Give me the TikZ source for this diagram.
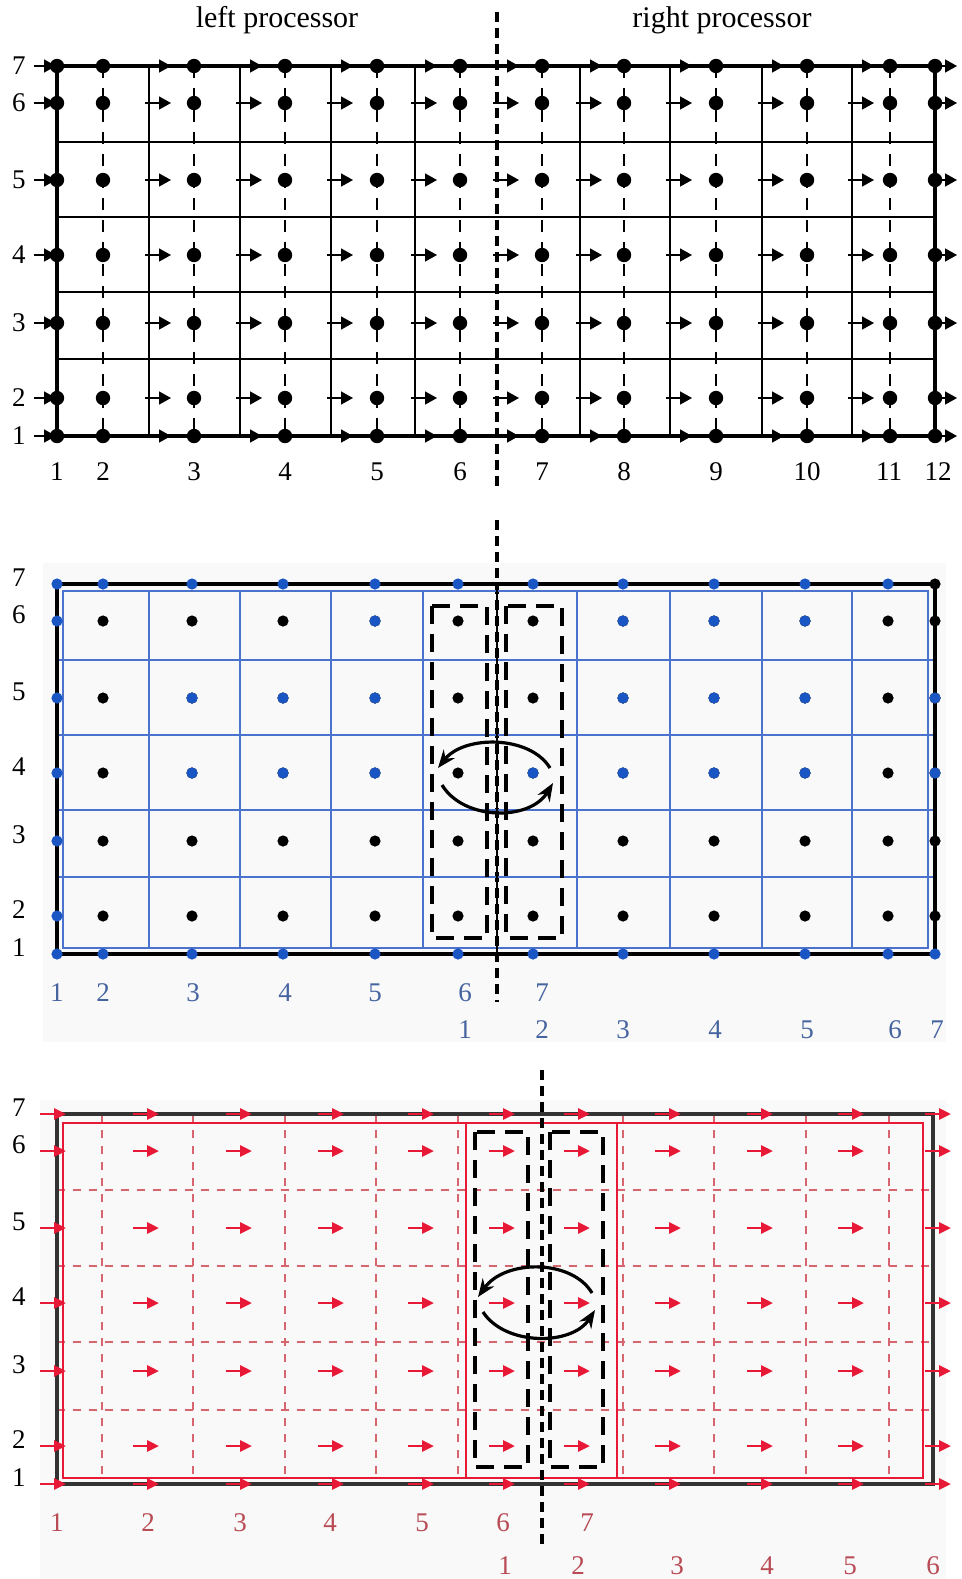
\documentclass[tikz,border=0pt]{standalone}
\usepackage{fontspec}
\setmainfont{Liberation Serif}
\usetikzlibrary{arrows.meta}

\definecolor{paper}{RGB}{249,249,249}
\definecolor{gridblue}{RGB}{75,115,205}
\definecolor{dotblue}{RGB}{25,85,195}
\definecolor{numblue}{RGB}{70,100,160}
\definecolor{velred}{RGB}{232,25,55}
\definecolor{gridred}{RGB}{215,100,110}
\definecolor{numred}{RGB}{185,75,85}

\tikzset{
  num/.style={font=\fontsize{13.5}{16}\selectfont,inner sep=0pt},
  title/.style={font=\fontsize{15}{18}\selectfont,inner sep=0pt},
  cellface/.style={line width=0.8pt},
  centerline/.style={line width=0.8pt,dash pattern=on 6pt off 5pt},
  thindash/.style={line width=0.6pt,dash pattern=on 4pt off 4pt},
  divider/.style={line width=1.7pt,dash pattern=on 5pt off 3pt},
  flux/.style={line width=0.8pt,-{Triangle[length=6pt,width=6.5pt]}},
  redflux/.style={velred,line width=1.4pt,-{Triangle[length=6pt,width=5.5pt]}},
  ghostbox/.style={line width=2pt,dash pattern=on 9pt off 5pt},
  exchange/.style={line width=1.6pt,-{Stealth[length=9pt,width=7pt]}},
}

\begin{document}
\begin{tikzpicture}[x=0.5pt,y=-0.5pt]
  % pixel grid of the scan: x to the right, y downwards
  \useasboundingbox (0,0) rectangle (962,1579);
  \def\rows{66,103,180,255,323,398,436}

  % ---- top: the whole domain, cut at 497
  \node[title] (lefttitle) at (277,20) {left processor};
  \node[title] (righttitle) at (722,20) {right processor};
  \foreach \x in {149,240,331,415,580,670,762,852} \draw[cellface] (\x,66) -- (\x,436);
  \foreach \y in {142,217,292,359} \draw[cellface] (57,\y) -- (935,\y);
  \foreach \x in {103,194,285,377,460,542,624,716,807,890} \draw[centerline] (\x,66) -- (\x,436);
  \draw[line width=2pt] (57,66) rectangle (935,436);
  \draw[divider] (497,12) -- (497,486);
  \foreach \y in \rows {
    \draw[flux] (34,\y) -- (56,\y);
    \foreach \x in {149,240,331,415,497,580,670,762,852,935} \draw[flux] (\x-4,\y) -- (\x+22,\y);
    \foreach \x in {57,103,194,285,377,460,542,624,716,807,890,935} \fill (\x,\y) circle (3.6pt);
  }
  \foreach \y/\t in {66/7,103/6,180/5,255/4,323/3,398/2,436/1}
    \node[num] (a\t) at (19,\y) {\t};
  \foreach \x/\t in {57/1,103/2,194/3,285/4,377/5,460/6,542/7,624/8,716/9,807/10,889/11,938/12}
    \node[num] (ac\t) at (\x,472) {\t};

  % ---- middle: cell centred values, blue = own, black = copies
  \begin{scope}[shift={(0,518)}]
    \fill[paper] (43,45) rectangle (946,524);
    \draw[divider] (497,2) -- (497,484);
    \foreach \y in {142,217,292,359} \draw[gridblue,cellface] (57,\y) -- (935,\y);
    \foreach \x in {149,240,331,423,577,670,762,852} \draw[gridblue,cellface] (\x,73) -- (\x,430);
    \draw[gridblue,cellface] (63,73) rectangle (928,430);
    \draw[line width=1.6pt] (57,66) rectangle (935,436);
    \draw[line width=1.3pt] (497,66) -- (497,436);
    \foreach \x in {103,192,283,375,458,533,623,714,805,888,935}
      \foreach \y in {103,180,255,323,398} \fill (\x,\y) circle (2.8pt);
    \fill (935,66) circle (2.8pt);
    \foreach \x/\y in {375/103,623/103,714/103,805/103,
                       192/180,283/180,375/180,623/180,714/180,805/180,935/180,
                       192/255,283/255,375/255,533/255,623/255,714/255,805/255,935/255}
      \fill[dotblue] (\x,\y) circle (2.8pt);
    \foreach \x in {57,103,192,283,375,458,533,623,714,805,888} \fill[dotblue] (\x,66) circle (2.8pt);
    \foreach \x in {57,103,192,283,375,458,533,623,714,805,888,935} \fill[dotblue] (\x,436) circle (2.8pt);
    \foreach \y in {103,180,255,323,398} \fill[dotblue] (57,\y) circle (2.8pt);
    \draw[ghostbox] (432,88) rectangle (487,420);
    \draw[ghostbox] (506,88) rectangle (562,420);
    \draw[exchange] (550,250) .. controls (530,217) and (464,217) .. (438,250);
    \draw[exchange] (442,267) .. controls (464,303) and (530,303) .. (553,265);
    \foreach \y/\t in {66/7,103/6,180/5,255/4,323/3,398/2,436/1}
      \node[num] (b\t) at (19,\y-6) {\t};
    \foreach \x/\t in {57/1,103/2,193/3,285/4,375/5,465/6,542/7}
      \node[num,numblue] (bl\t) at (\x,475) {\t};
    \foreach \x/\t in {465/1,542/2,623/3,715/4,807/5,895/6,937/7}
      \node[num,numblue] (br\t) at (\x,512) {\t};
  \end{scope}

  % ---- bottom: face velocities, red
  \begin{scope}[shift={(0,1048)}]
    \fill[paper] (40,52) rectangle (946,531);
    \foreach \y in {142,218,294,362} \draw[gridred,thindash] (57,\y) -- (933,\y);
    \foreach \x in {102,193,285,376,458,623,714,806,889} \draw[gridred,thindash] (\x,66) -- (\x,436);
    \draw[velred,cellface] (63,75) rectangle (923,430);
    \draw[velred,cellface] (466,75) -- (466,430) (617,75) -- (617,430);
    \draw[black!80,line width=1.6pt] (57,66) rectangle (933,436);
    \draw[divider] (542,22) -- (542,497);
    \draw[ghostbox] (475,84) rectangle (528,419);
    \draw[ghostbox] (550,84) rectangle (603,419);
    \draw[exchange] (592,245) .. controls (572,211) and (505,211) .. (478,249);
    \draw[exchange] (483,264) .. controls (505,298) and (572,298) .. (595,262);
    \foreach \y in \rows {
      \draw[redflux] (40,\y) -- (66,\y);
      \foreach \x in {146,239,331,421,502,577,668,760,851} \draw[redflux] (\x-13,\y) -- (\x+13,\y);
      \draw[redflux] (925,\y) -- (951,\y);
    }
    \foreach \y/\t in {66/7,103/6,180/5,255/4,323/3,398/2,436/1}
      \node[num] (c\t) at (19,\y-6) {\t};
    \foreach \x/\t in {57/1,148/2,240/3,330/4,422/5,503/6,587/7}
      \node[num,numred] (cl\t) at (\x,475) {\t};
    \foreach \x/\t in {505/1,578/2,677/3,767/4,850/5,933/6}
      \node[num,numred] (cr\t) at (\x,518) {\t};
  \end{scope}
\end{tikzpicture}
\end{document}
